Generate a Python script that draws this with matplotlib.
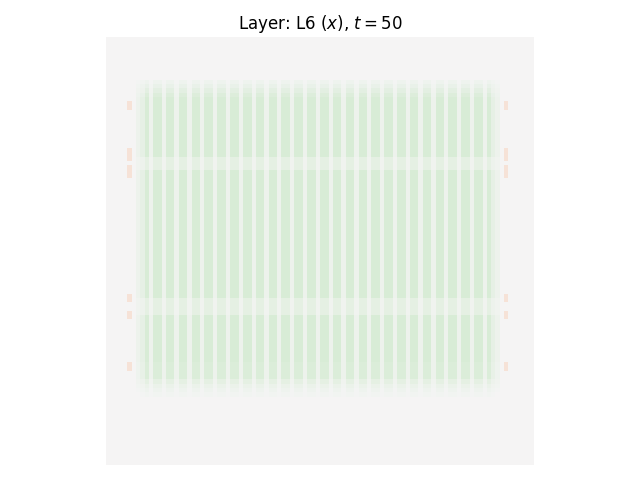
import numpy as np
import matplotlib
matplotlib.use("Agg")
import matplotlib.pyplot as plt
from matplotlib.colors import LinearSegmentedColormap

# Column profile (100 columns) of the green field
col_profile = [
    0, 0, 0, 0, 0, 0, 0, 0.25, 0.5, 1.0,
    0.28, 1, 1, 0.28, 1, 1, 0.28, 1, 1, 0.28,
    1, 1, 0.28, 1, 1, 0.28, 1, 1, 0.28, 1,
    1, 0.28, 1, 1, 0.28, 1, 1, 0.28, 1, 1,
    0.28, 1, 1, 0.28, 1, 1, 0.28, 1, 1, 0.28,
    1, 1, 0.28, 1, 1, 0.28, 1, 1, 0.28, 1,
    1, 0.28, 1, 1, 0.28, 1, 1, 0.28, 1, 1,
    0.28, 1, 1, 0.28, 1, 1, 0.28, 1, 1, 0.28,
    1, 1, 0.28, 1, 1, 0.28, 1, 1, 0.28, 1.0,
    0.5, 0.25, 0, 0, 0, 0, 0, 0, 0, 0,
]

# Row profile (100 rows) of the green field
row_profile = [
    0, 0, 0, 0, 0, 0, 0, 0, 0, 0,
    0.2, 0.4, 0.6, 0.8, 1, 1, 1, 1, 1, 1,
    1, 1, 1, 1, 1, 1, 1, 1, 0.55, 0.55,
    0.55, 1, 1, 1, 1, 1, 1, 1, 1, 1,
    1, 1, 1, 1, 1, 1, 1, 1, 1, 1,
    1, 1, 1, 1, 1, 1, 1, 1, 1, 1,
    1, 0.55, 0.55, 0.55, 0.55, 1, 1, 1, 1, 1,
    1, 1, 1, 1, 1, 1, 0.9, 0.9, 0.9, 0.9,
    0.55, 0.35, 0.2, 0.1, 0, 0, 0, 0, 0, 0,
    0, 0, 0, 0, 0, 0, 0, 0, 0, 0,
]

# Negative (orange) marks: rows and columns
mark_rows = [15, 16, 26, 27, 28, 30, 31, 32, 60, 61, 64, 65, 76, 77]
mark_cols = [5, 93]
mark_value = -1.0

field = np.outer(np.array(row_profile, float), np.array(col_profile, float))
for r in mark_rows:
    for c in mark_cols:
        field[r, c] = mark_value

cmap = LinearSegmentedColormap.from_list(
    "og", ["#ff7224", "#f5f5f5", "#2ab61c"], N=255)

fig = plt.figure(figsize=(6.4, 4.8), dpi=100)
ax = fig.add_axes([106 / 640, 15 / 480, 428 / 640, 428 / 480])
ax.imshow(field, cmap=cmap, vmin=-7, vmax=7, interpolation="nearest")
ax.set_axis_off()
ax.set_title(r"Layer: L6 ($x$), $t=50$")
fig.savefig("out.png", dpi=100)
